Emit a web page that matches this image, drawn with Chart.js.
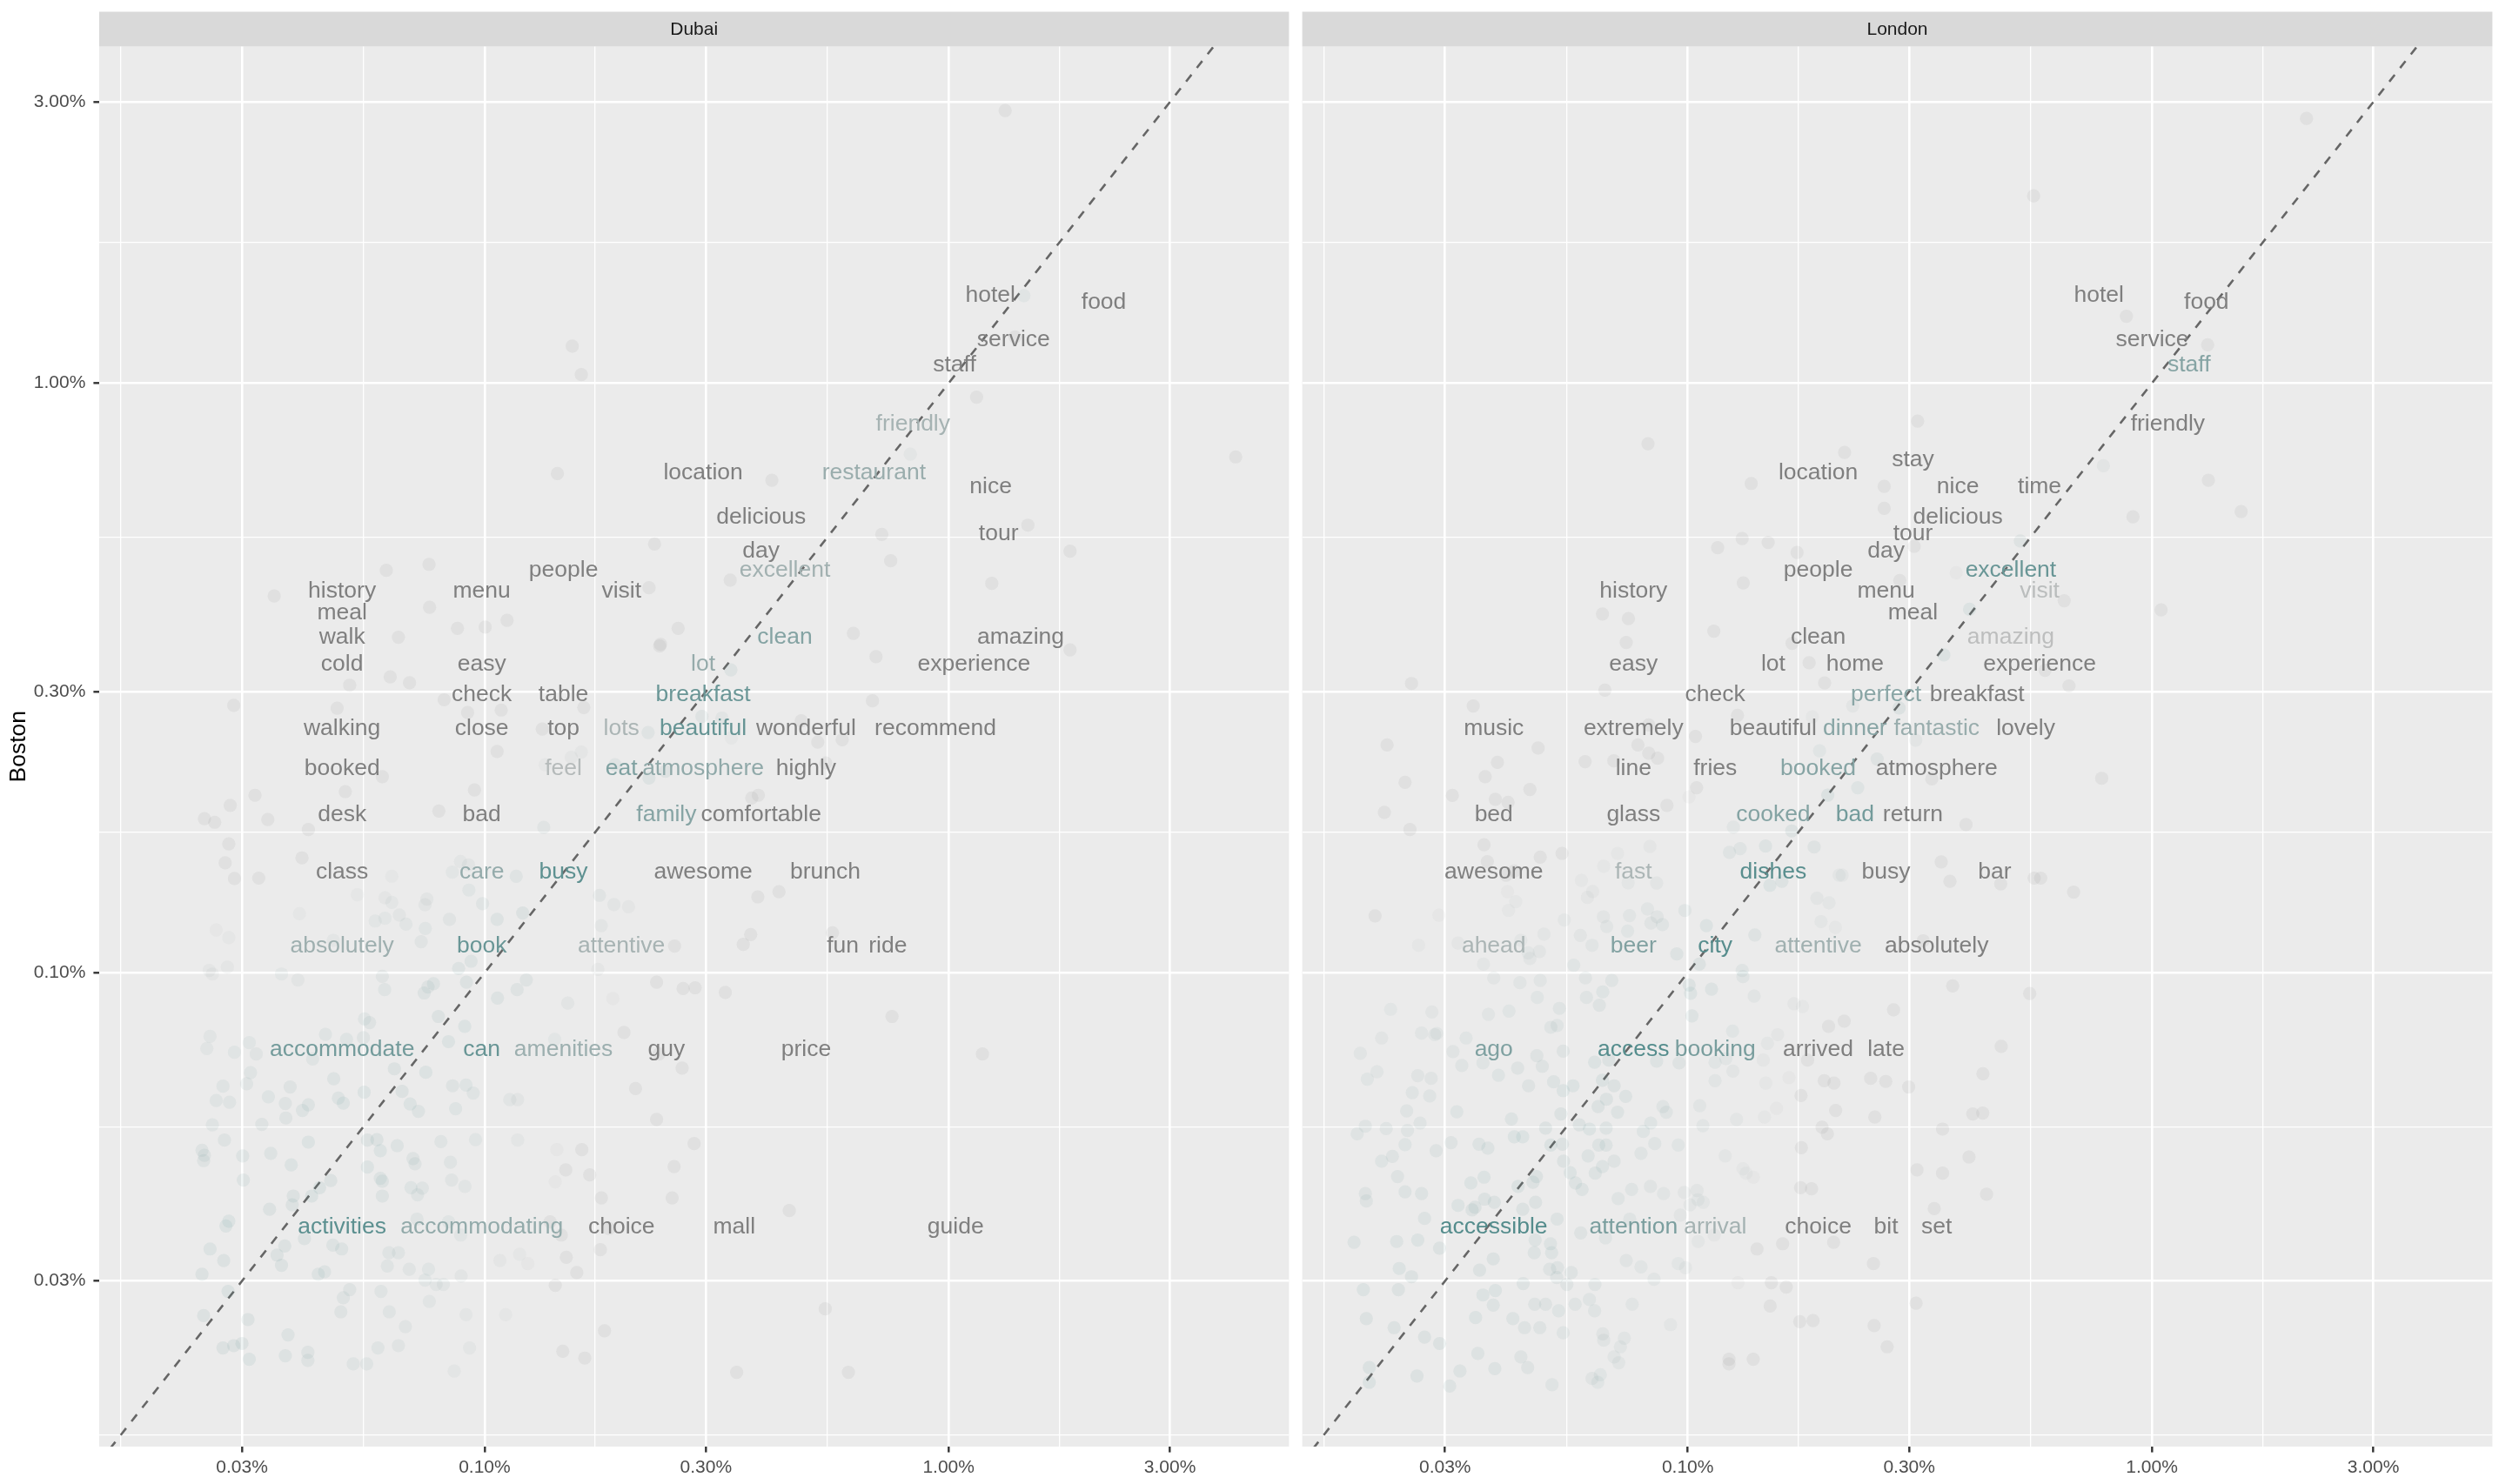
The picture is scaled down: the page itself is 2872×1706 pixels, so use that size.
<!DOCTYPE html>
<html>
<head>
<meta charset="utf-8">
<script src="https://cdn.jsdelivr.net/npm/chart.js@4.4.1/dist/chart.umd.min.js"></script>
<style>
  html, body { margin: 0; padding: 0; background: #fff; }
  #wrap { position: relative; width: 2872px; height: 1706px; }
  canvas { position: absolute; top: 0; }
</style>
</head>
<body>
<div id="wrap">
  <canvas id="dubai" width="1489" height="1706" style="left:0"></canvas>
  <canvas id="london" width="1383" height="1706" style="left:1489px"></canvas>
</div>
<script>
// axis ranges and ticks (percent)
const X_MIN = 0.01477, X_MAX = 5.415;
const Y_MIN = 0.01571, Y_MAX = 3.725;
const MAJOR_TICKS = [0.03, 0.1, 0.3, 1, 3];
const TICK_LABELS = ["0.03%", "0.10%", "0.30%", "1.00%", "3.00%"];
const MINOR_TICKS = [0.01643, 0.05477, 0.1732, 0.5477, 1.732, 5.477];
const DIFF_LIMIT = 0.1; // colour scale limit for |Boston - city|, in percent
const facetNames = ["Dubai", "London"];
const yTitle = "Boston";

// word labels: x = share in the city, y = share in Boston (percent)
const dubaiWords = ["hotel","food","service","staff","friendly","location","restaurant","nice","delicious","tour","day","people","excellent","history","menu","visit","meal","walk","clean","amazing","cold","easy","lot","experience","check","table","breakfast","walking","close","top","lots","beautiful","wonderful","recommend","booked","feel","eat","atmosphere","highly","desk","bad","family","comfortable","class","care","busy","awesome","brunch","absolutely","book","attentive","fun","ride","accommodate","can","amenities","guy","price","activities","accommodating","choice","mall","guide"];
const dubaiWordX = [1.23,2.16,1.38,1.03,0.8381,0.2958,0.6902,1.2325,0.3944,1.2818,0.3944,0.1479,0.4437,0.0493,0.0986,0.1972,0.0493,0.0493,0.4437,1.4297,0.0493,0.0986,0.2958,1.1339,0.0986,0.1479,0.2958,0.0493,0.0986,0.1479,0.1972,0.2958,0.493,0.9367,0.0493,0.1479,0.1972,0.2958,0.493,0.0493,0.0986,0.2465,0.3944,0.0493,0.0986,0.1479,0.2958,0.5423,0.0493,0.0986,0.1972,0.5916,0.7395,0.0493,0.0986,0.1479,0.2465,0.493,0.0493,0.0986,0.1972,0.3451,1.0353];
const dubaiWordY = [1.5124,1.4726,1.2736,1.1542,0.9154,0.7562,0.7562,0.7164,0.6368,0.597,0.5572,0.5174,0.5174,0.4776,0.4776,0.4776,0.4378,0.398,0.398,0.398,0.3582,0.3582,0.3582,0.3582,0.3184,0.3184,0.3184,0.2786,0.2786,0.2786,0.2786,0.2786,0.2786,0.2786,0.2388,0.2388,0.2388,0.2388,0.2388,0.199,0.199,0.199,0.199,0.1592,0.1592,0.1592,0.1592,0.1592,0.1194,0.1194,0.1194,0.1194,0.1194,0.0796,0.0796,0.0796,0.0796,0.0796,0.0398,0.0398,0.0398,0.0398,0.0398];

const londonWords = ["hotel","food","service","staff","friendly","stay","location","nice","time","delicious","tour","day","people","excellent","history","menu","visit","meal","clean","amazing","easy","lot","home","experience","check","perfect","breakfast","music","extremely","beautiful","dinner","fantastic","lovely","line","fries","booked","atmosphere","bed","glass","cooked","bad","return","awesome","fast","dishes","busy","bar","ahead","beer","city","attentive","absolutely","ago","access","booking","arrived","late","accessible","attention","arrival","choice","bit","set"];
const londonWordX = [0.769,1.311,1.002,1.202,1.082,0.3056,0.191,0.382,0.573,0.382,0.3056,0.2674,0.191,0.4966,0.0764,0.2674,0.573,0.3056,0.191,0.4966,0.0764,0.1528,0.2292,0.573,0.1146,0.2674,0.4202,0.0382,0.0764,0.1528,0.2292,0.3438,0.5348,0.0764,0.1146,0.191,0.3438,0.0382,0.0764,0.1528,0.2292,0.3056,0.0382,0.0764,0.1528,0.2674,0.4584,0.0382,0.0764,0.1146,0.191,0.3438,0.0382,0.0764,0.1146,0.191,0.2674,0.0382,0.0764,0.1146,0.191,0.2674,0.3438];
const londonWordY = [1.5124,1.4726,1.2736,1.1542,0.9154,0.796,0.7562,0.7164,0.7164,0.6368,0.597,0.5572,0.5174,0.5174,0.4776,0.4776,0.4776,0.4378,0.398,0.398,0.3582,0.3582,0.3582,0.3582,0.3184,0.3184,0.3184,0.2786,0.2786,0.2786,0.2786,0.2786,0.2786,0.2388,0.2388,0.2388,0.2388,0.199,0.199,0.199,0.199,0.199,0.1592,0.1592,0.1592,0.1592,0.1592,0.1194,0.1194,0.1194,0.1194,0.1194,0.0796,0.0796,0.0796,0.0796,0.0796,0.0398,0.0398,0.0398,0.0398,0.0398,0.0398];

// jittered word points [city %, Boston %]
const dubaiPoints = [
[0.1545,1.156],[0.1616,1.034],[1.324,2.90],[1.453,1.408],[1.39,1.198],[1.149,0.947],
[0.1435,0.7026],[0.416,0.6846],[0.2324,0.5335],[0.3383,0.4636],[0.2261,0.4498],[0.0614,0.4815],[0.0759,0.4929],[0.0352,0.4355],[0.0761,0.4167],[0.1118,0.3961],[0.0874,0.3839],[0.1003,0.3859],[0.0652,0.3707],[0.2613,0.3839],[0.2394,0.3607],[0.2384,0.3583],[0.0626,0.3176],[0.0689,0.3103],[0.0512,0.3074],[0.0288,0.2841],[0.0481,0.2811],[0.0818,0.2904],[0.0919,0.2764],[0.1086,0.279],[0.1636,0.2818],[0.1331,0.2591],[0.1064,0.2374],[0.1616,0.2368],[0.1538,0.2319],[0.1351,0.2253],[0.191,0.2253],[0.2261,0.214],[0.0602,0.2151],[0.0501,0.2029],[0.0951,0.2042],[0.032,0.2],[0.0283,0.1923],[0.0249,0.1826],[0.0262,0.18],[0.0341,0.1819],[0.0417,0.1749],[0.0797,0.1881],[0.1341,0.1765],[0.3765,0.1979],[0.3889,0.2],[0.0281,0.1654],[0.0276,0.1536],[0.0404,0.1566],[0.0289,0.1445],[0.0326,0.1447],[0.0631,0.1458],[0.0887,0.1544],[0.0923,0.1524],[0.0852,0.1481],[0.117,0.1457],[0.0925,0.1381],[0.0532,0.1356],[0.061,0.134],[0.0631,0.1316],[0.0744,0.1304],[0.0751,0.1333],[0.099,0.131],[0.1768,0.1353],[0.19,0.1305],[0.2042,0.1294],[0.388,0.1345],[0.0399,0.1259],[0.0581,0.1224],[0.061,0.1237],[0.0655,0.1253],[0.0677,0.1209],[0.0745,0.1189],[0.084,0.1232],[0.1064,0.1232],[0.1208,0.1263],[0.1784,0.1202],[0.0264,0.1182],[0.0281,0.1147],[0.0472,0.1135],[0.073,0.1129],[0.2567,0.111],[0.3609,0.1117],[0.3745,0.1161],
[0.827,0.7577],[4.156,0.7499],[1.482,0.5744],[0.7178,0.554],[1.827,0.5189],[0.7502,0.4998],[1.239,0.4575],[0.6233,0.3765],[0.6975,0.3438],[1.827,0.3528],[0.3394,0.3264],[0.6853,0.2892],[0.3247,0.2704],[0.2941,0.2721],[0.4814,0.2676],[0.5223,0.2462],[0.5898,0.2485],[0.3402,0.2501],[0.2251,0.2556],[0.5435,0.2269],[0.2454,0.2196],[0.4309,0.1372],[0.5619,0.1169],
[0.0255,0.1009],[0.0259,0.0995],[0.0279,0.1022],[0.0365,0.0995],[0.0396,0.0972],[0.0602,0.0986],[0.0609,0.0936],[0.0755,0.0946],[0.0776,0.0958],[0.0741,0.0924],[0.0879,0.1017],[0.0935,0.1046],[0.0914,0.0964],[0.1066,0.0906],[0.1175,0.0936],[0.123,0.0972],[0.1511,0.0888],[0.1754,0.1013],[0.189,0.0904],[0.2348,0.0964],[0.2678,0.094],[0.2842,0.0943],[0.3302,0.0926],
[0.0256,0.078],[0.0252,0.0744],[0.0289,0.0733],[0.0311,0.0761],[0.0322,0.0728],[0.0426,0.0714],[0.0454,0.0786],[0.0504,0.0771],[0.0548,0.0776],[0.0565,0.0823],[0.0551,0.0835],[0.0795,0.0843],[0.0836,0.0764],[0.0906,0.0811],[0.1416,0.0771],[0.1997,0.0792],[0.2377,0.0728],[0.2665,0.0689],
[0.0313,0.0677],[0.0307,0.0648],[0.0273,0.0642],[0.0264,0.0607],[0.0282,0.0603],[0.0342,0.0616],[0.0381,0.064],[0.0372,0.06],[0.0417,0.0597],[0.0405,0.0584],[0.0473,0.0661],[0.0484,0.0613],[0.0496,0.0601],[0.055,0.0627],[0.0639,0.0687],[0.0747,0.0678],[0.0664,0.0629],[0.0691,0.0599],[0.072,0.0582],[0.0853,0.0643],[0.0912,0.0645],[0.0945,0.0625],[0.0866,0.0588],[0.1133,0.0609],[0.1178,0.0609],[0.2115,0.0636],[0.2348,0.0564],
[0.0259,0.0552],[0.0331,0.0553],[0.0373,0.0567],[0.0275,0.052],[0.0246,0.05],[0.0249,0.049],[0.0248,0.048],[0.0301,0.0489],[0.0346,0.0494],[0.0383,0.0472],[0.0417,0.0516],[0.0559,0.052],[0.0586,0.0521],[0.0596,0.0499],[0.0648,0.0509],[0.0805,0.0517],[0.0956,0.0521],[0.1178,0.052],[0.1431,0.0501],[0.162,0.0501],[0.2828,0.0513],[0.2561,0.0469],
[0.0302,0.0445],[0.0466,0.0444],[0.0559,0.0468],[0.0596,0.0448],[0.0602,0.0443],[0.0701,0.0484],[0.0708,0.0474],[0.0844,0.0477],[0.0849,0.0445],[0.0907,0.0434],[0.1496,0.0463],[0.1685,0.0454],[0.142,0.0442],[0.1785,0.0415],[0.2536,0.0415],
[0.0387,0.0418],[0.0344,0.0397],[0.0385,0.0404],[0.0424,0.0418],[0.0441,0.0432],[0.0602,0.0418],[0.0694,0.0432],[0.0734,0.0431],[0.0717,0.042],[0.1384,0.0378],
[0.0281,0.0379],[0.0277,0.0372],[0.0715,0.0382],[0.0836,0.0378],[0.0888,0.0359],[0.1463,0.0359],[0.1853,0.0368],
[0.0256,0.034],[0.0274,0.0325],[0.0246,0.0308],[0.0365,0.0319],[0.0357,0.0332],[0.0371,0.0344],[0.0409,0.0354],[0.0471,0.0345],[0.0492,0.034],[0.0622,0.0335],[0.0652,0.0335],[0.0617,0.0318],[0.0688,0.0314],[0.0757,0.0314],[0.0744,0.0301],[0.0786,0.0296],[0.0815,0.0296],[0.089,0.0306],[0.1079,0.0325],[0.119,0.0333],[0.1239,0.0321],[0.15,0.0329],[0.142,0.0295],[0.158,0.031],[0.1776,0.0339],
[0.028,0.0288],[0.0248,0.0262],[0.0309,0.0258],[0.0438,0.0308],[0.0452,0.0311],[0.0512,0.029],[0.0496,0.0281],[0.049,0.0266],[0.0598,0.0288],[0.0623,0.0266],[0.0675,0.0251],[0.076,0.0277],[0.0912,0.0263],[0.111,0.0263],[0.1813,0.0247],
[0.0273,0.0231],[0.0288,0.0233],[0.03,0.0235],[0.0311,0.0221],[0.0377,0.0243],[0.0372,0.0224],[0.0416,0.0227],[0.0416,0.022],[0.0521,0.0217],[0.0557,0.0217],[0.0589,0.0231],[0.0652,0.0233],[0.086,0.0211],[0.0928,0.0231],[0.1474,0.0228],[0.1644,0.0222],[0.3493,0.021],
[0.7551,0.0843],[1.1828,0.0728],[0.4535,0.0395],[0.5422,0.0269],[0.6082,0.021]
];

const londonPoints = [
[0.0821,0.7896],[0.2177,0.7633],[0.137,0.6761],[0.265,0.6682],
[2.1535,2.813],[0.5561,2.079],[0.8813,1.2988],[1.3186,1.162],[0.3128,0.8625],[0.7862,0.7245],[1.3235,0.6846],
[0.9103,0.5936],[1.5572,0.6058],[0.5207,0.5401],[0.3075,0.5289],[0.3787,0.477],[0.6472,0.4277],[1.0467,0.4126],[0.4047,0.4136],[0.3563,0.3461],[0.5886,0.3258],[0.6629,0.3066],[0.2854,0.2812],[0.3098,0.248],[0.7797,0.2137],[0.3356,0.2132],[0.3977,0.1784],[0.3516,0.1542],[0.3672,0.1429],[0.4724,0.1415],[0.5577,0.1447],[0.5761,0.1447],[0.6781,0.137],[0.3216,0.1133],
[0.3722,0.095],[0.5454,0.0922],[0.4735,0.075],[0.4325,0.0674],[0.4112,0.0576],[0.4321,0.0578],[0.354,0.0543],[0.4036,0.0487],[0.3118,0.0463],[0.354,0.0457],[0.4404,0.0421],[0.3397,0.0398],[0.3104,0.0275],
[0.265,0.6133],[0.131,0.5453],[0.149,0.537],[0.116,0.526],[0.172,0.5163],[0.1317,0.4585],[0.2863,0.4629],[0.0655,0.4061],[0.0745,0.3987],[0.1138,0.3797],[0.0737,0.3633],[0.1678,0.362],[0.1826,0.3356],[0.0254,0.3095],[0.0663,0.3016],[0.1972,0.3102],[0.0345,0.2835],[0.2267,0.2835],[0.128,0.2733],[0.1855,0.2717],[0.1039,0.2517],[0.0824,0.2632],[0.0781,0.2435],[0.0824,0.2357],[0.0861,0.2311],[0.0225,0.2435],[0.0476,0.2405],[0.0389,0.2274],[0.0601,0.2281],[0.0693,0.2288],[0.1923,0.238],[0.2559,0.2304],[0.0366,0.215],[0.0246,0.2103],[0.0457,0.2046],[0.0311,0.1999],[0.1045,0.206],[0.1006,0.1987],[0.2324,0.206],[0.2003,0.2001],[0.0385,0.1969],[0.041,0.1946],[0.0902,0.1923],[0.0222,0.1871],[0.0252,0.1749],[0.1254,0.1766],[0.1675,0.174],[0.0364,0.1648],[0.0481,0.1571],[0.0536,0.1594],[0.0706,0.1594],[0.0829,0.1638],[0.123,0.16],[0.1297,0.1624],[0.1471,0.164],[0.1872,0.1634],[0.037,0.1543],[0.0406,0.1464],[0.0423,0.1488],[0.059,0.1434],[0.0659,0.1516],[0.0744,0.1421],[0.0857,0.142],[0.1595,0.1429],[0.1503,0.1407],[0.2119,0.1464],[0.2151,0.1464],[0.0409,0.1372],[0.0624,0.1373],[0.0608,0.1342],[0.0426,0.132],[0.0411,0.1276],[0.1898,0.1338],[0.2015,0.1314],[0.0212,0.1249],[0.0291,0.1252],[0.0542,0.1229],[0.0658,0.1244],[0.0749,0.125],[0.0819,0.1283],[0.0859,0.1244],[0.0833,0.1214],[0.0882,0.1207],[0.0986,0.1275],[0.0669,0.1198],[0.0742,0.1177],[0.1937,0.1221],[0.208,0.1194],[0.1097,0.1202],[0.0263,0.1113],[0.032,0.1123],[0.049,0.1163],[0.0437,0.1135],[0.0453,0.1081],[0.0479,0.1086],[0.0587,0.1157],[0.0622,0.1113],[0.0947,0.1076],[0.1395,0.1159],[0.1059,0.1034],[0.0363,0.1034],[0.0457,0.1057],[0.0568,0.103],[0.131,0.1009],
[0.0382,0.098],[0.0435,0.0962],[0.0481,0.097],[0.0602,0.098],[0.0686,0.097],[0.1315,0.0985],[0.0474,0.0908],[0.0605,0.0908],[0.0645,0.0881],[0.0656,0.0928],[0.1007,0.0953],[0.1014,0.0923],[0.1125,0.0938],[0.139,0.0913],[0.0229,0.0867],[0.0281,0.0858],[0.0372,0.085],[0.0412,0.0861],[0.0529,0.087],[0.1694,0.0886],[0.1767,0.0876],[0.2776,0.0865],
[0.0219,0.0775],[0.0267,0.079],[0.0285,0.0785],[0.0288,0.0789],[0.0333,0.0775],[0.0507,0.0808],[0.0523,0.0814],[0.1021,0.0845],[0.1249,0.0796],[0.1562,0.0785],[0.2011,0.0811],[0.2173,0.0828],[0.0197,0.073],[0.0214,0.0679],[0.0312,0.0735],[0.0326,0.0696],[0.0362,0.0703],[0.043,0.0689],[0.0473,0.0723],[0.0486,0.0694],[0.0539,0.0736],[0.063,0.0705],[0.0676,0.0711],[0.0857,0.0708],[0.0958,0.0703],[0.1145,0.0705],[0.1208,0.0715],[0.1454,0.0711],[0.1812,0.0711],[0.1485,0.0759],
[0.0204,0.066],[0.0262,0.0669],[0.028,0.0662],[0.0391,0.067],[0.0454,0.0643],[0.0514,0.0653],[0.0566,0.0643],[0.0539,0.0631],[0.0655,0.0657],[0.0694,0.0643],[0.0735,0.0617],[0.1145,0.0656],[0.1251,0.0681],[0.1473,0.065],[0.1652,0.0664],[0.1968,0.0656],[0.2066,0.065],[0.2478,0.0662],[0.2671,0.0654],[0.2992,0.064],[0.0255,0.0626],[0.0278,0.0618],[0.0318,0.0581],[0.0248,0.0583],[0.0265,0.0556],[0.0417,0.0565],[0.0533,0.0576],[0.0641,0.0593],[0.0668,0.061],[0.0706,0.058],[0.0884,0.0593],[0.0899,0.058],[0.1061,0.0595],[0.1274,0.0564],[0.1463,0.0569],[0.1553,0.0589],[0.1754,0.0619],[0.2083,0.0584],[0.253,0.0569],
[0.0194,0.0533],[0.0202,0.0549],[0.0224,0.0544],[0.0249,0.054],[0.0309,0.0515],[0.0355,0.0512],[0.0371,0.0504],[0.0423,0.0527],[0.0441,0.0527],[0.0494,0.0545],[0.0584,0.0552],[0.0614,0.0543],[0.0667,0.0545],[0.0802,0.0538],[0.0849,0.0513],[0.0832,0.0556],[0.0954,0.051],[0.1078,0.055],[0.1947,0.0547],[0.1999,0.0533],
[0.0219,0.0479],[0.0231,0.0488],[0.0287,0.0499],[0.0246,0.0511],[0.0237,0.0451],[0.0246,0.0425],[0.0267,0.0422],[0.0202,0.0422],[0.0203,0.041],[0.0341,0.044],[0.0364,0.045],[0.0431,0.0434],[0.0464,0.0441],[0.0472,0.0451],[0.0507,0.051],[0.0537,0.0512],[0.054,0.0479],[0.0558,0.0458],[0.0573,0.044],[0.0592,0.0429],[0.061,0.0489],[0.0632,0.0457],[0.0655,0.0469],[0.0643,0.051],[0.0667,0.051],[0.0694,0.0479],[0.0757,0.0429],[0.0793,0.0494],[0.0708,0.0414],[0.0831,0.0434],[0.0887,0.0422],[0.0983,0.0424],[0.1047,0.0427],[0.1052,0.0412],[0.108,0.0408],[0.1011,0.0404],[0.1204,0.0489],[0.1315,0.0465],[0.1336,0.0457],[0.1384,0.045],[0.1757,0.0505],[0.175,0.0432],[0.1848,0.043],
[0.032,0.0403],[0.0343,0.0396],[0.0348,0.04],[0.0365,0.0413],[0.0271,0.0383],[0.0383,0.0408],[0.0441,0.0397],[0.047,0.0408],[0.0523,0.0382],[0.0469,0.0352],[0.0467,0.0335],[0.0506,0.0347],[0.0509,0.0335],[0.0588,0.0362],[0.0665,0.0355],[0.075,0.0382],[0.0964,0.0388],[0.1053,0.035],[0.114,0.0359],[0.141,0.034],[0.1601,0.0347],[0.2062,0.0349],[0.0191,0.0349],[0.0236,0.035],[0.0262,0.0352],[0.0292,0.0341],[0.0381,0.0327],[0.0356,0.0313],[0.0239,0.0315],[0.0254,0.0305],[0.02,0.029],[0.0238,0.029],[0.0362,0.0284],[0.0385,0.0289],[0.0442,0.0297],[0.0504,0.0314],[0.0524,0.0316],[0.0561,0.031],[0.0522,0.0304],[0.0549,0.0296],[0.0631,0.0296],[0.0737,0.0325],[0.0793,0.0317],[0.0846,0.0302],[0.0954,0.0321],[0.0989,0.0316],[0.1283,0.0298],[0.1514,0.0298],[0.163,0.0293],[0.2512,0.0321],
[0.0203,0.0259],[0.0233,0.025],[0.0271,0.0241],[0.0292,0.0235],[0.0349,0.026],[0.0381,0.0273],[0.042,0.0259],[0.0445,0.025],[0.0468,0.0274],[0.0494,0.0274],[0.048,0.025],[0.0527,0.0267],[0.0539,0.0245],[0.0572,0.0274],[0.0614,0.0279],[0.063,0.0267],[0.0656,0.0244],[0.0659,0.0238],[0.073,0.024],[0.0716,0.0232],[0.0759,0.0274],[0.0694,0.0223],[0.071,0.0218],[0.0918,0.0253],[0.1505,0.0272],[0.1743,0.0256],[0.1862,0.0257],[0.2521,0.0252],[0.2689,0.0232],[0.0353,0.0226],[0.0437,0.0223],[0.0452,0.0214],[0.0384,0.0213],[0.0323,0.0211],[0.0261,0.0207],[0.0307,0.0199],[0.0206,0.0214],[0.0206,0.0202],[0.051,0.02],[0.0622,0.0205],[0.0648,0.0208],[0.064,0.0202],[0.1227,0.0221],[0.1227,0.0217],[0.1384,0.0221]
];

// ---- styling ----
const FONT = '"Liberation Sans", Arial, Helvetica, sans-serif';
Chart.defaults.font.family = FONT;
const STRIP_TOP = 13.5;
const LOW = [82, 139, 139];    // darkslategray4
const HIGH = [191, 191, 191];  // gray75
const NA_COL = [127, 127, 127];

function diffColour(x, y, alpha) {
  const d = Math.abs(x - y) / DIFF_LIMIT;
  const c = d > 1 ? NA_COL : LOW.map((v, i) => Math.round(v + (HIGH[i] - v) * d));
  return `rgba(${c[0]},${c[1]},${c[2]},${alpha})`;
}

function isMajor(v) {
  return MAJOR_TICKS.some(t => Math.abs(t - v) / t < 1e-6);
}
function tickText(v) {
  const i = MAJOR_TICKS.findIndex(t => Math.abs(t - v) / t < 1e-6);
  return i < 0 ? "" : TICK_LABELS[i];
}
function setTicks(min, max) {
  return scale => {
    scale.ticks = MAJOR_TICKS.concat(MINOR_TICKS)
      .filter(v => v >= min && v <= max)
      .sort((a, b) => a - b)
      .map(v => ({ value: v }));
  };
}

const panelPlugin = {
  id: "panel",
  beforeDraw(chart, args, opts) {
    const { ctx, chartArea: a } = chart;
    ctx.save();
    ctx.fillStyle = "#EBEBEB";
    ctx.fillRect(a.left, a.top, a.right - a.left, a.bottom - a.top);
    ctx.fillStyle = "#D9D9D9";
    ctx.fillRect(a.left, STRIP_TOP, a.right - a.left, a.top - STRIP_TOP);
    ctx.fillStyle = "#1A1A1A";
    ctx.font = "21px " + FONT;
    ctx.textAlign = "center";
    ctx.textBaseline = "middle";
    ctx.fillText(opts.title, (a.left + a.right) / 2, (STRIP_TOP + a.top) / 2 + 1);
    if (opts.yTitle) {
      ctx.translate(22, (a.top + a.bottom) / 2);
      ctx.rotate(-Math.PI / 2);
      ctx.fillStyle = "#000";
      ctx.font = "26.5px " + FONT;
      ctx.fillText(opts.yTitle, 0, 0);
    }
    ctx.restore();
  },
  afterDatasetsDraw(chart, args, opts) {
    const { ctx, chartArea: a, scales } = chart;
    const size = 26.5;
    const drop = 1.5 * 0.716 * size; // vjust = 1.5
    ctx.save();
    ctx.beginPath();
    ctx.rect(a.left, a.top, a.right - a.left, a.bottom - a.top);
    ctx.clip();
    ctx.font = size + "px " + FONT;
    ctx.textAlign = "center";
    ctx.textBaseline = "alphabetic";
    opts.words.forEach((w, i) => {
      const x = opts.wx[i], y = opts.wy[i];
      ctx.fillStyle = diffColour(x, y, 1);
      ctx.fillText(w, scales.x.getPixelForValue(x), scales.y.getPixelForValue(y) + drop);
    });
    ctx.restore();
  }
};

function makePanel(id, title, words, wx, wy, points, first, yWidth, padRight) {
  const tickFont = { size: 21, family: FONT };
  const grid = {
    color: "#FFFFFF",
    lineWidth: c => (c.tick && isMajor(c.tick.value)) ? 2.6 : 1.3,
    tickLength: 6.6,
    tickWidth: 2.4,
    tickColor: c => (c.tick && isMajor(c.tick.value)) ? "#333333" : "rgba(0,0,0,0)"
  };
  return new Chart(document.getElementById(id), {
    type: "scatter",
    data: {
      datasets: [
        {
          data: points.map(p => ({ x: p[0], y: p[1] })),
          pointRadius: 7.6,
          pointHoverRadius: 7.6,
          borderWidth: 0,
          backgroundColor: c => c.raw ? diffColour(c.raw.x, c.raw.y, 0.1) : "rgba(0,0,0,0)",
          clip: 0
        },
        {
          type: "line",
          data: [X_MIN, X_MAX].map(v => ({ x: v, y: v })),
          borderColor: "#666666",
          borderWidth: 2.6,
          borderDash: [10, 10],
          pointRadius: 0,
          fill: false,
          clip: 0
        }
      ]
    },
    options: {
      responsive: false,
      animation: false,
      events: [],
      layout: { padding: { top: 53.5, right: padRight, bottom: 0, left: 0 } },
      plugins: {
        legend: { display: false },
        tooltip: { enabled: false },
        panel: { title, words, wx, wy, yTitle: first ? yTitle : null }
      },
      scales: {
        x: {
          type: "logarithmic",
          min: X_MIN, max: X_MAX,
          bounds: "data",
          afterBuildTicks: setTicks(X_MIN, X_MAX),
          afterFit: s => { s.height = 43; },
          border: { display: false },
          grid,
          ticks: { autoSkip: false, maxRotation: 0, minRotation: 0, padding: 5, color: "#4D4D4D", font: tickFont, callback: v => tickText(v) }
        },
        y: {
          type: "logarithmic",
          min: Y_MIN, max: Y_MAX,
          bounds: "data",
          afterBuildTicks: setTicks(Y_MIN, Y_MAX),
          afterFit: s => { s.width = yWidth; },
          border: { display: false },
          grid: Object.assign({}, grid, { drawTicks: first }),
          ticks: { display: first, autoSkip: false, padding: 9, color: "#4D4D4D", font: tickFont, callback: v => tickText(v) }
        }
      }
    },
    plugins: [panelPlugin]
  });
}

makePanel("dubai", facetNames[0], dubaiWords, dubaiWordX, dubaiWordY, dubaiPoints, true, 114, 5.5);
makePanel("london", facetNames[1], londonWords, londonWordX, londonWordY, londonPoints, false, 6.5, 7);
</script>
</body>
</html>
